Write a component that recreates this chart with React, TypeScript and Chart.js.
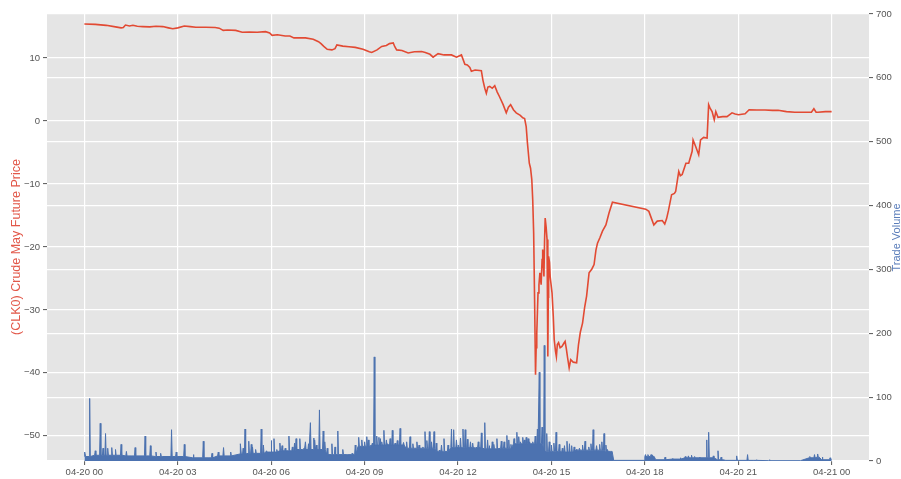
import React, { useEffect, useRef } from 'react';
import { Chart, registerables } from 'chart.js';

Chart.register(...registerables);

// ---- data (hours after 04-20 00:00) ----
const priceHours = [
  0.0, 0.35, 0.7, 1.0, 1.18, 1.25, 1.32, 1.45, 1.56, 1.7, 1.88, 2.1, 2.3, 2.52, 2.7, 2.84, 3.0, 3.21, 3.4, 3.58,
  3.9, 4.2, 4.33, 4.46, 4.6, 4.86, 5.07, 5.3, 5.55, 5.82, 5.95, 6.03, 6.2, 6.45, 6.6, 6.73, 7.1, 7.35, 7.52, 7.6,
  7.69, 7.8, 7.95, 8.05, 8.11, 8.3, 8.5, 8.7, 8.95, 9.15, 9.23, 9.4, 9.55, 9.7, 9.8, 9.92, 9.97, 10.03, 10.2, 10.4,
  10.6, 10.83, 10.95, 11.1, 11.2, 11.36, 11.55, 11.79, 11.95, 12.11, 12.22, 12.3, 12.38, 12.43, 12.55, 12.75, 12.8, 12.86, 12.91, 12.96,
  13.02, 13.1, 13.18, 13.26, 13.33, 13.45, 13.55, 13.62, 13.69, 13.78, 13.87, 14.0, 14.08, 14.14, 14.19, 14.23, 14.29, 14.33, 14.37, 14.4,
  14.43, 14.46, 14.49, 14.51, 14.53, 14.55, 14.57, 14.6, 14.63, 14.67, 14.7, 14.72, 14.74, 14.76, 14.78, 14.8, 14.83, 14.86, 14.88, 14.89,
  14.9, 14.91, 14.94, 14.96, 15.02, 15.06, 15.09, 15.13, 15.16, 15.19, 15.23, 15.28, 15.34, 15.4, 15.44, 15.48, 15.52, 15.57, 15.62, 15.7,
  15.81, 15.87, 15.93, 16.0, 16.07, 16.13, 16.21, 16.3, 16.37, 16.43, 16.48, 16.56, 16.64, 16.75, 16.85, 16.96,
  18.03, 18.13, 18.2, 18.29, 18.4, 18.56, 18.64, 18.7, 18.76, 18.86, 18.95, 18.99, 19.09, 19.14, 19.2, 19.32, 19.41, 19.52, 19.55, 19.63,
  19.73, 19.79, 19.89, 20.0, 20.05, 20.1, 20.16, 20.23, 20.28, 20.35, 20.5, 20.64, 20.8, 20.9, 21.01, 21.22, 21.35, 21.6, 21.86, 22.1,
  22.28, 22.55, 22.82, 23.1, 23.35, 23.43, 23.5, 23.56, 23.8, 24.0,
];
const priceValues = [
  15.4, 15.35, 15.2, 14.95, 14.8, 14.85, 15.25, 15.1, 15.2, 15.05, 15.0, 14.95, 15.05, 15.0, 14.8, 14.65, 14.8, 15.1, 15.0, 14.9,
  14.9, 14.85, 14.75, 14.4, 14.45, 14.4, 14.1, 14.15, 14.1, 14.2, 14.0, 13.6, 13.7, 13.5, 13.5, 13.2, 13.2, 13.0, 12.6, 12.3,
  11.85, 11.4, 11.3, 11.5, 12.1, 11.9, 11.8, 11.7, 11.4, 11.0, 10.9, 11.3, 11.85, 12.0, 12.3, 12.4, 11.8, 11.3, 11.2, 10.8,
  11.0, 11.05, 10.9, 10.6, 10.15, 10.7, 10.5, 10.5, 10.15, 10.5, 9.0, 8.9, 8.5, 7.9, 8.1, 8.0, 6.5, 5.2, 4.4, 5.4,
  5.5, 5.2, 5.6, 4.6, 3.9, 2.6, 1.3, 2.2, 2.6, 1.8, 1.3, 0.9, 0.5, 0.4, -0.9, -3.5, -6.7, -7.5, -9.3, -12.5,
  -17.8, -28.4, -40.3, -36.0, -33.7, -30.5, -27.3, -26.0, -24.1, -26.0, -22.0, -20.4, -23.0, -24.7, -19.0, -15.4, -16.8, -18.8, -25.0, -37.4,
  -28.0, -21.5, -22.5, -24.7, -27.3, -31.0, -34.7, -36.5, -37.4, -35.5, -35.2, -36.0, -35.8, -35.3, -35.0, -36.2, -37.6, -39.2, -37.9, -38.3,
  -38.4, -35.5, -33.5, -32.1, -29.5, -27.8, -24.1, -23.5, -22.8, -20.5, -19.4, -18.5, -17.5, -16.5, -14.6, -12.9,
  -14.0, -14.35, -15.3, -16.5, -15.9, -15.8, -16.35, -15.5, -14.2, -11.7, -11.5, -11.2, -8.0, -8.7, -8.5, -6.7, -6.7, -4.8, -3.0, -4.0,
  -5.35, -3.0, -2.6, -2.7, 2.6, 2.0, 1.5, 0.2, 1.5, 0.6, 0.7, 0.7, 1.3, 1.1, 1.0, 1.15, 1.8, 1.75, 1.75, 1.7,
  1.7, 1.5, 1.4, 1.4, 1.4, 1.95, 1.4, 1.4, 1.5, 1.5,
];

const volBaseHours = [
  0.0, 0.5, 1.0, 1.5, 2.0, 2.5, 3.0, 3.5, 4.0, 4.5, 5.0, 5.5, 6.0, 6.5, 7.0, 7.5, 8.0, 8.5, 9.0, 9.5,
  10.0, 10.5, 11.0, 11.5, 12.0, 12.5, 13.0, 13.5, 14.0, 14.5, 15.0, 15.5, 16.0, 16.5, 16.95, 17.0, 17.98, 18.0, 18.3, 18.35,
  19.0, 19.5, 20.0, 20.5, 20.6, 21.0, 21.5, 22.0, 23.0, 23.3, 23.6, 23.7, 24.0,
];
const volBaseValues = [
  7, 9, 9, 8, 8, 7, 7, 5, 5, 8, 11, 12, 14, 16, 18, 18, 10, 10, 23, 25,
  25, 20, 20, 15, 21, 21, 19, 20, 27, 27, 15, 14, 17, 17, 15, 1, 1, 7, 7, 2,
  3, 5, 5, 2, 1, 1, 1, 0.5, 0.5, 5, 6, 2, 2,
];

const volSpikeHours = [
  0.02, 0.17, 0.35, 0.51, 0.6, 0.68, 0.75, 0.88, 1.0, 1.18, 1.35, 1.63, 1.95, 2.12, 2.3, 2.45, 2.8, 2.95, 3.21, 3.5,
  3.82, 4.1, 4.3, 4.47, 4.7, 5.02, 5.1, 5.16, 5.28, 5.36, 5.5, 5.68, 5.85, 6.0, 6.09, 6.18, 6.28, 6.45, 6.57, 6.68,
  6.8, 6.92, 7.05, 7.2, 7.26, 7.37, 7.45, 7.55, 7.67, 7.8, 7.95, 8.14, 8.3, 8.45, 8.6, 8.81, 8.91, 9.07, 9.2, 9.31,
  9.39, 9.46, 9.55, 9.62, 9.75, 9.89, 9.98, 10.14, 10.25, 10.46, 10.6, 10.75, 10.87, 10.94, 11.08, 11.23, 11.4, 11.55, 11.68, 11.79,
  11.86, 12.0, 12.16, 12.23, 12.4, 12.55, 12.75, 12.86, 13.0, 13.15, 13.39, 13.57, 13.7, 13.89, 14.0, 14.08, 14.19, 14.3, 14.48, 14.55,
  14.61, 14.7, 14.77, 14.85, 15.0, 15.15, 15.25, 15.35, 15.5, 15.65, 15.8, 15.9, 16.08, 16.2, 16.34, 16.45, 16.55, 16.69, 16.8, 16.9,
  18.02, 18.1, 18.2, 18.25, 18.65, 18.9, 19.15, 19.3, 19.4, 19.5, 19.6, 19.75, 19.99, 20.05, 20.2, 20.35, 20.45, 20.95, 21.3, 21.6,
  22.0, 23.3, 23.45, 23.55, 23.7, 23.95,
];
const volSpikeValues = [
  14, 98, 16, 59, 20, 43, 20, 21, 18, 26, 15, 21, 39, 24, 14, 12, 49, 14, 26, 10,
  31, 12, 14, 21, 14, 27, 20, 50, 31, 26, 18, 50, 16, 32, 35, 18, 28, 20, 39, 22,
  35, 35, 20, 27, 60, 36, 25, 80, 47, 20, 27, 47, 18, 10, 12, 37, 33, 38, 25, 163,
  39, 37, 30, 48, 27, 48, 28, 51, 29, 38, 20, 25, 22, 46, 46, 46, 17, 35, 25, 50,
  49, 25, 50, 49, 30, 20, 44, 60, 24, 26, 31, 40, 26, 45, 30, 37, 37, 30, 39, 50,
  139, 53, 181, 43, 25, 45, 26, 20, 31, 24, 18, 20, 31, 22, 49, 24, 26, 43, 18, 15,
  10, 10, 10, 9, 6, 4, 5, 7, 8, 9, 7, 6, 33, 45, 8, 16, 6, 8, 10, 2,
  2, 7, 10, 11, 6, 5,
];

// smaller spikes that thicken the busy session
const volMinorHours = [
  5.4, 5.75, 6.35, 6.75, 7.1, 7.4, 7.72, 8.05, 8.7, 9.0, 9.12, 9.25, 9.5, 9.7, 9.82, 10.05, 10.35, 10.55, 10.68, 11.0,
  11.15, 11.3, 11.47, 11.95, 12.08, 12.3, 12.47, 12.65, 12.95, 13.1, 13.25, 13.48, 13.63, 13.8, 13.95, 14.13, 14.25, 14.4, 14.93, 15.08,
  15.42, 15.58, 15.73, 16.0, 16.27, 16.62, 16.75,
];
const volMinorValues = [
  22, 25, 24, 28, 30, 33, 30, 22, 25, 30, 33, 28, 35, 33, 35, 32, 30, 27, 30, 32,
  30, 28, 25, 33, 36, 34, 28, 30, 33, 30, 35, 30, 33, 35, 38, 33, 35, 30, 30, 28,
  24, 27, 22, 25, 27, 30, 25,
];

const xTickHours = [0, 3, 6, 9, 12, 15, 18, 21, 24];
const xTickLabels = ['04-20 00', '04-20 03', '04-20 06', '04-20 09', '04-20 12', '04-20 15', '04-20 18', '04-20 21', '04-21 00'];
const priceTicks = [-50, -40, -30, -20, -10, 0, 10];
const volumeTicks = [0, 100, 200, 300, 400, 500, 600, 700];

const leftTitle = '(CLK0) Crude May Future Price';
const rightTitle = 'Trade Volume';

const RED = '#E24A33';
const BLUE = '#4C72B0';
const TICK_COLOR = '#555555';
const FONT = 'Liberation Sans, Arial, sans-serif';

const fmt = (v: number) => (v < 0 ? '\u2212' + Math.abs(v) : String(v));

export default function App() {
  const ref = useRef<HTMLCanvasElement>(null);

  useEffect(() => {
    if (!ref.current) return;
    const priceData = priceHours.map((h, i) => ({ x: h, y: priceValues[i] }));

    const nearestBase = (h: number) => {
      let best = 0;
      for (let i = 1; i < volBaseHours.length; i++) {
        if (Math.abs(volBaseHours[i] - h) < Math.abs(volBaseHours[best] - h)) best = i;
      }
      return volBaseValues[best];
    };
    const volData: { x: number; y: number }[] = volBaseHours.map((h, i) => ({ x: h, y: volBaseValues[i] }));
    const addSpike = (h: number, v: number) => {
      const foot = nearestBase(h);
      volData.push({ x: Math.max(0, h - 0.02), y: foot }, { x: h, y: v }, { x: Math.min(24, h + 0.02), y: foot });
    };
    volSpikeHours.forEach((h, i) => addSpike(h, volSpikeValues[i]));
    volMinorHours.forEach((h, i) => addSpike(h, volMinorValues[i]));
    volData.sort((a, b) => a.x - b.x);

    const bgPlugin = {
      id: 'bg',
      beforeDraw(chart: any) {
        const { ctx, chartArea } = chart;
        ctx.save();
        ctx.fillStyle = '#E5E5E5';
        ctx.fillRect(chartArea.left, chartArea.top, chartArea.right - chartArea.left, chartArea.bottom - chartArea.top);
        ctx.restore();
      },
      afterDraw(chart: any) {
        const { ctx, chartArea } = chart;
        ctx.save();
        ctx.textAlign = 'center';
        ctx.textBaseline = 'middle';
        ctx.fillStyle = '#E2584A';
        ctx.font = `12.5px ${FONT}`;
        ctx.translate(17, 247);
        ctx.rotate(-Math.PI / 2);
        ctx.fillText(leftTitle, 0, 0);
        ctx.restore();
        ctx.save();
        ctx.textAlign = 'center';
        ctx.textBaseline = 'middle';
        ctx.fillStyle = '#5A7DBA';
        ctx.font = `11px ${FONT}`;
        ctx.translate(897, (chartArea.top + chartArea.bottom) / 2);
        ctx.rotate(-Math.PI / 2);
        ctx.fillText(rightTitle, 0, 0);
        ctx.restore();
      },
    };

    const tickFont = { family: FONT, size: 9.5 };
    const grid = { color: '#FFFFFF', lineWidth: 1.2, tickColor: TICK_COLOR, tickLength: 4, tickWidth: 1 };

    const chart = new Chart(ref.current, {
      type: 'line',
      data: {
        datasets: [
          {
            label: 'Volume',
            data: volData,
            yAxisID: 'y1',
            borderColor: BLUE,
            backgroundColor: BLUE,
            borderWidth: 1,
            pointRadius: 0,
            tension: 0,
            fill: 'origin',
          },
          {
            label: 'Price',
            data: priceData,
            yAxisID: 'y',
            borderColor: RED,
            borderWidth: 1.6,
            pointRadius: 0,
            tension: 0,
            fill: false,
          },
        ],
      },
      options: {
        responsive: false,
        animation: false,
        layout: { padding: { top: 14, left: 0, right: 0, bottom: 0 } },
        plugins: { legend: { display: false }, tooltip: { enabled: false } },
        scales: {
          x: {
            type: 'linear',
            min: -1.2,
            max: 25.2,
            afterBuildTicks: (s: any) => {
              s.ticks = xTickHours.map((v) => ({ value: v }));
            },
            afterFit: (s: any) => {
              s.height = 18;
            },
            grid,
            border: { display: false },
            ticks: {
              autoSkip: false,
              maxRotation: 0,
              padding: 2,
              color: TICK_COLOR,
              font: tickFont,
              callback: (_v: any, i: number) => xTickLabels[i],
            },
          },
          y: {
            type: 'linear',
            position: 'left',
            min: -54,
            max: 17,
            afterBuildTicks: (s: any) => {
              s.ticks = priceTicks.map((v) => ({ value: v }));
            },
            afterFit: (s: any) => {
              s.width = 47;
            },
            grid,
            border: { display: false },
            ticks: { padding: 3, color: TICK_COLOR, font: tickFont, callback: (v: any) => fmt(Number(v)) },
          },
          y1: {
            type: 'linear',
            position: 'right',
            min: 0,
            max: 700,
            afterBuildTicks: (s: any) => {
              s.ticks = volumeTicks.map((v) => ({ value: v }));
            },
            afterFit: (s: any) => {
              s.width = 32;
            },
            grid,
            border: { display: false },
            ticks: { padding: 3, color: TICK_COLOR, font: tickFont, callback: (v: any) => String(v) },
          },
        },
      },
      plugins: [bgPlugin],
    } as any);

    return () => chart.destroy();
  }, []);

  return (
    <div style={{ position: 'fixed', left: 0, top: 0, width: 901, height: 479, background: '#fff' }}>
      <canvas ref={ref} width={901} height={479} style={{ display: 'block', width: 901, height: 479 }} />
    </div>
  );
}
